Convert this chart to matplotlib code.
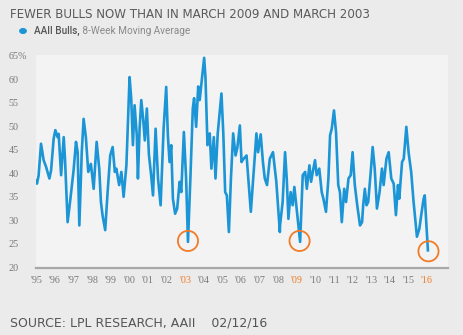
import matplotlib
matplotlib.use("Agg")
import matplotlib.pyplot as plt

# AAII bulls, 8-week moving average (% bullish), weekly turning points
years = [
    1995.00, 1995.03, 1995.12, 1995.25, 1995.39, 1995.52, 1995.70, 1995.79, 1995.93, 1996.02,
    1996.14, 1996.20, 1996.33, 1996.47, 1996.54, 1996.68, 1996.83, 1996.95, 1997.00, 1997.13,
    1997.22, 1997.31, 1997.44, 1997.54, 1997.66, 1997.79, 1997.93, 1998.08, 1998.24, 1998.38,
    1998.47, 1998.56, 1998.70, 1998.83, 1998.97, 1999.10, 1999.22, 1999.30, 1999.45, 1999.57,
    1999.69, 1999.84, 2000.01, 2000.10, 2000.19, 2000.28, 2000.40, 2000.46, 2000.55, 2000.64,
    2000.74, 2000.83, 2000.94, 2001.05, 2001.17, 2001.27, 2001.41, 2001.54, 2001.68, 2001.84,
    2001.98, 2002.07, 2002.16, 2002.25, 2002.34, 2002.46, 2002.57, 2002.70, 2002.79, 2002.93,
    2003.05, 2003.15, 2003.28, 2003.41, 2003.48, 2003.59, 2003.70, 2003.78, 2004.02, 2004.09,
    2004.20, 2004.32, 2004.41, 2004.54, 2004.63, 2004.75, 2004.95, 2005.05, 2005.15, 2005.24,
    2005.35, 2005.46, 2005.58, 2005.71, 2005.81, 2005.94, 2006.03, 2006.12, 2006.30, 2006.42,
    2006.53, 2006.66, 2006.83, 2006.92, 2007.06, 2007.18, 2007.28, 2007.40, 2007.55, 2007.72,
    2007.90, 2008.09, 2008.10, 2008.24, 2008.37, 2008.46, 2008.55, 2008.67, 2008.78, 2008.87,
    2008.99, 2009.18, 2009.32, 2009.45, 2009.54, 2009.68, 2009.77, 2009.86, 2009.98, 2010.07,
    2010.21, 2010.34, 2010.43, 2010.57, 2010.70, 2010.79, 2010.88, 2011.00, 2011.11, 2011.23,
    2011.32, 2011.42, 2011.55, 2011.65, 2011.78, 2011.90, 2012.00, 2012.12, 2012.25, 2012.40,
    2012.51, 2012.57, 2012.66, 2012.75, 2012.84, 2012.99, 2013.08, 2013.19, 2013.31, 2013.45,
    2013.58, 2013.67, 2013.82, 2013.94, 2014.08, 2014.21, 2014.33, 2014.44, 2014.51, 2014.66,
    2014.75, 2014.89, 2015.01, 2015.15, 2015.28, 2015.46, 2015.59, 2015.69, 2015.82, 2015.88,
    2015.95, 2016.05,
]
bulls = [
    38.5, 37.8, 39.5, 46.3, 42.8, 41.4, 38.9, 40.6, 47.4, 49.2,
    47.7, 48.4, 39.6, 47.7, 43.0, 29.6, 34.6, 38.9, 40.6, 46.7,
    44.5, 28.9, 44.5, 51.6, 47.7, 40.3, 42.0, 36.7, 46.7, 41.0,
    33.9, 31.0, 27.9, 36.0, 43.8, 45.6, 40.3, 41.0, 37.5, 40.3,
    35.0, 41.7, 60.5, 55.9, 46.0, 54.5, 48.0, 38.9, 49.5, 55.6,
    51.6, 47.0, 53.8, 44.0, 39.6, 35.3, 49.5, 38.9, 33.2, 49.5,
    58.4, 48.0, 42.4, 46.0, 34.6, 31.4, 32.5, 38.2, 36.0, 48.8,
    38.9, 25.4, 38.9, 53.8, 56.0, 49.9, 58.5, 55.6, 64.6, 60.5,
    46.0, 48.5, 41.0, 47.7, 38.9, 48.5, 57.0, 48.5, 36.0, 35.3,
    27.5, 38.9, 48.5, 43.8, 45.6, 50.2, 42.4, 43.0, 43.8, 37.5,
    31.8, 38.9, 48.5, 44.5, 48.3, 42.4, 38.9, 37.5, 43.1, 44.5,
    38.2, 27.5, 28.9, 33.9, 44.5, 38.9, 30.3, 36.0, 33.2, 37.1,
    32.5, 25.4, 39.6, 40.3, 36.7, 41.7, 38.2, 40.3, 42.8, 39.6,
    41.0, 36.0, 34.6, 31.8, 38.9, 48.1, 49.5, 53.4, 48.8, 37.5,
    36.0, 29.6, 36.7, 33.9, 38.9, 39.6, 44.5, 37.5, 33.2, 28.9,
    29.6, 33.2, 36.7, 33.2, 33.9, 41.0, 45.6, 41.0, 32.5, 36.0,
    41.0, 37.5, 43.1, 44.5, 38.9, 37.8, 31.1, 37.5, 34.6, 42.4,
    43.1, 49.9, 44.5, 40.3, 33.9, 26.5, 28.2, 31.1, 34.6, 35.3,
    30.3, 23.6,
]

# Lows highlighted with circles
low_years = [2003.15, 2009.15, 2016.08]
low_values = [25.6, 25.6, 23.4]

tick_years = list(range(1995, 2017))
tick_labels = ["'%02d" % (y % 100) for y in tick_years]
highlight_years = [2003, 2009, 2016]

y_ticks = [20, 25, 30, 35, 40, 45, 50, 55, 60, 65]
y_labels = ["20", "25", "30", "35", "40", "45", "50", "55", "60", "65%"]

BLUE = "#1b95d6"
ORANGE = "#f07b28"
GREY_TXT = "#7a7a7a"

W, H = 464, 335
fig = plt.figure(figsize=(W / 100, H / 100), dpi=100)
fig.patch.set_facecolor("#ebebeb")

ax = fig.add_axes([36 / W, 1 - 267.7 / H, (448 - 36) / W, (267.7 - 55) / H])
ax.set_facecolor("#f3f3f3")

ax.plot(years, bulls, color=BLUE, lw=1.9, solid_joinstyle="round", zorder=3)
ax.scatter(low_years, low_values, s=14.5 ** 2, facecolors="none",
           edgecolors=ORANGE, linewidths=1.3, zorder=4)

ax.set_xlim(1994.98, 2017.13)
ax.set_ylim(19.9, 65.2)

for side in ("top", "right", "left"):
    ax.spines[side].set_visible(False)
ax.spines["bottom"].set_color("#a8a8a8")
ax.spines["bottom"].set_linewidth(1.6)

ax.set_xticks(tick_years)
ax.set_xticklabels(tick_labels, family="Liberation Serif", fontsize=7.3, color=GREY_TXT)
for lbl, yr in zip(ax.get_xticklabels(), tick_years):
    if yr in highlight_years:
        lbl.set_color(ORANGE)

ax.set_yticks(y_ticks)
ax.set_yticklabels(y_labels, family="Liberation Serif", fontsize=7.3, color=GREY_TXT)
for lbl in ax.get_yticklabels():
    lbl.set_horizontalalignment("left")
ax.tick_params(axis="x", length=0, pad=6)
ax.tick_params(axis="y", length=0, pad=19.5)

# Title, legend and source line
fig.text(10 / W, 1 - 15 / H, "FEWER BULLS NOW THAN IN MARCH 2009 AND MARCH 2003",
         fontsize=8.6, color="#5a5a5a", family="DejaVu Sans", va="center", ha="left")

fig.patches.append(matplotlib.patches.Circle((23 / W, 1 - 31 / H), 3.2 / W,
                   transform=fig.transFigure, color=BLUE))
t1 = fig.text(34 / W, 1 - 31 / H, "AAII Bulls,", fontsize=7.2, color="#555555",
              family="Roboto", weight="medium", va="center", ha="left")
fig.canvas.draw()
ax.annotate(" 8-Week Moving Average", xy=(1, 0.5), xycoords=t1, va="center",
            ha="left", fontsize=7.2, color="#8a8a8a", family="Roboto",
            annotation_clip=False)

fig.text(10 / W, 1 - 323 / H, "SOURCE: LPL RESEARCH, AAII    02/12/16",
         fontsize=9.0, color="#555555", family="DejaVu Sans", va="center", ha="left")

fig.savefig("out.png", dpi=100, facecolor=fig.get_facecolor())
